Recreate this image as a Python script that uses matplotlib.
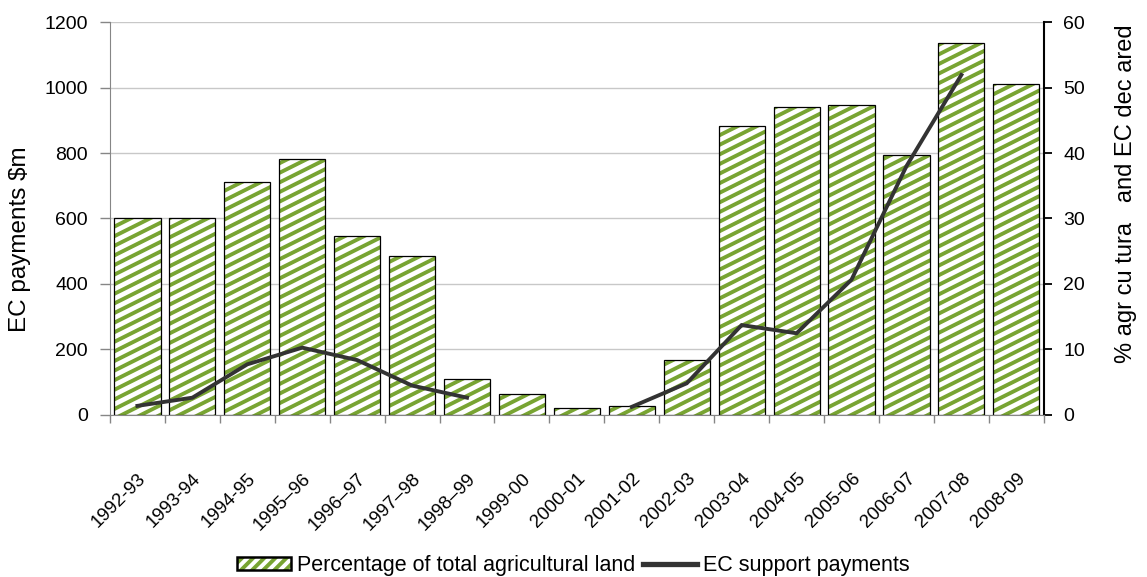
import numpy as np
import matplotlib
matplotlib.use('Agg')
import matplotlib.pyplot as plt
from matplotlib.collections import LineCollection
from matplotlib.patches import Patch
from matplotlib.lines import Line2D
from matplotlib.transforms import IdentityTransform

plt.rcParams['font.family'] = ['Liberation Sans', 'DejaVu Sans']
plt.rcParams['hatch.linewidth'] = 2.8

seasons = ['1992-93', '1993-94', '1994-95', '1995–96', '1996–97', '1997–98',
           '1998–99', '1999-00', '2000-01', '2001-02', '2002-03', '2003-04',
           '2004-05', '2005-06', '2006-07', '2007-08', '2008-09']
# share of agricultural land declared (%), right axis
land_share = [30.1, 30.1, 35.6, 39.1, 27.3, 24.2, 5.4, 3.2, 1.0, 1.3,
              8.3, 44.2, 47.0, 47.4, 39.7, 56.9, 50.5]
# EC support payments ($m), left axis; gaps where no payments reported
payments = [27, 52, 154, 205, 167, 89, 52, np.nan, np.nan, 24,
            96, 274, 249, 413, 760, 1039, np.nan]

GREEN = '#78a432'
DARK = '#333333'
GREY = '#868686'

fig = plt.figure(figsize=(11.47, 5.77), dpi=100)
ax = fig.add_axes([0.0959, 0.2813, 0.8141, 0.6801])
ax2 = ax.twinx()

x = np.arange(len(seasons))

# bars live on the percentage axis
bars = ax2.bar(x, land_share, width=0.84, facecolor='white', linewidth=0, zorder=2)
ax2.bar(x, land_share, width=0.84, fill=False, edgecolor='black', linewidth=0.9, zorder=4)
ax2.set_ylim(0, 60)
ax2.set_yticks(range(0, 61, 10))
ax2.yaxis.grid(True, color='#c8c8c8', linewidth=1)
ax2.set_axisbelow(True)

# shallow diagonal stripes, clipped to each bar
bb = ax2.bbox
slope, step = 0.5, 9.6
span = bb.width * slope
offsets = np.arange(bb.y0 - span - step, bb.y1 + step, step)
segs = [[(bb.x0, c), (bb.x1, c + span)] for c in offsets]
for b in bars:
    lc = LineCollection(segs, colors=GREEN, linewidths=2.8,
                        transform=IdentityTransform(), zorder=3)
    ax2.add_collection(lc, autolim=False)
    lc.set_clip_path(b)

# payments line on the left axis, drawn above the bars
ax.set_zorder(ax2.get_zorder() + 1)
ax.patch.set_visible(False)
ax.plot(x, payments, color=DARK, linewidth=2.8, solid_joinstyle='miter')
ax.set_ylim(0, 1200)
ax.set_yticks(range(0, 1201, 200))
ax.set_xlim(-0.5, len(seasons) - 0.5)

ax.set_xticks(x)
ax.set_xticklabels(seasons, rotation=45, ha='right', va='top', rotation_mode='anchor')
ax.set_xticks(np.arange(-0.5, len(seasons), 1), minor=True)
ax.tick_params(axis='x', which='major', length=0, pad=40, labelsize=13.5)
ax.tick_params(axis='x', which='minor', length=6, width=1, color=GREY, direction='out')
ax.tick_params(axis='y', direction='out', length=7, width=1, color=GREY, pad=9, labelsize=14)
ax2.tick_params(axis='y', direction='out', length=6, width=1.3, color='black', pad=8, labelsize=14)

for s in ['top', 'right']:
    ax.spines[s].set_visible(False)
for s in ['top', 'left', 'bottom']:
    ax2.spines[s].set_visible(False)
ax.spines['left'].set_color(GREY)
ax.spines['bottom'].set_color(GREY)
ax2.spines['right'].set_color('black')
ax2.spines['right'].set_linewidth(1.5)

fig.text(20 / 1147, 1 - 239 / 577, 'EC payments $m', rotation=90,
         ha='center', va='center', fontsize=17.5)
fig.text(1126 / 1147, 1 - 194 / 577, '% agr cu tura   and EC dec ared', rotation=90,
         ha='center', va='center', fontsize=17)

handles = [(Patch(facecolor='white', edgecolor=GREEN, hatch='///', linewidth=0),
            Patch(facecolor='none', edgecolor='black', linewidth=1.8)),
           Line2D([], [], color=DARK, linewidth=3.8)]
fig.legend(handles, ['Percentage of total agricultural land', 'EC support payments'],
           loc='center', bbox_to_anchor=(573 / 1147, 1 - 566 / 577), ncol=2,
           frameon=False, fontsize=15.5, handlelength=2.55, handleheight=0.55,
           handletextpad=0.25, columnspacing=0.35)

fig.savefig('out.png', dpi=100)
